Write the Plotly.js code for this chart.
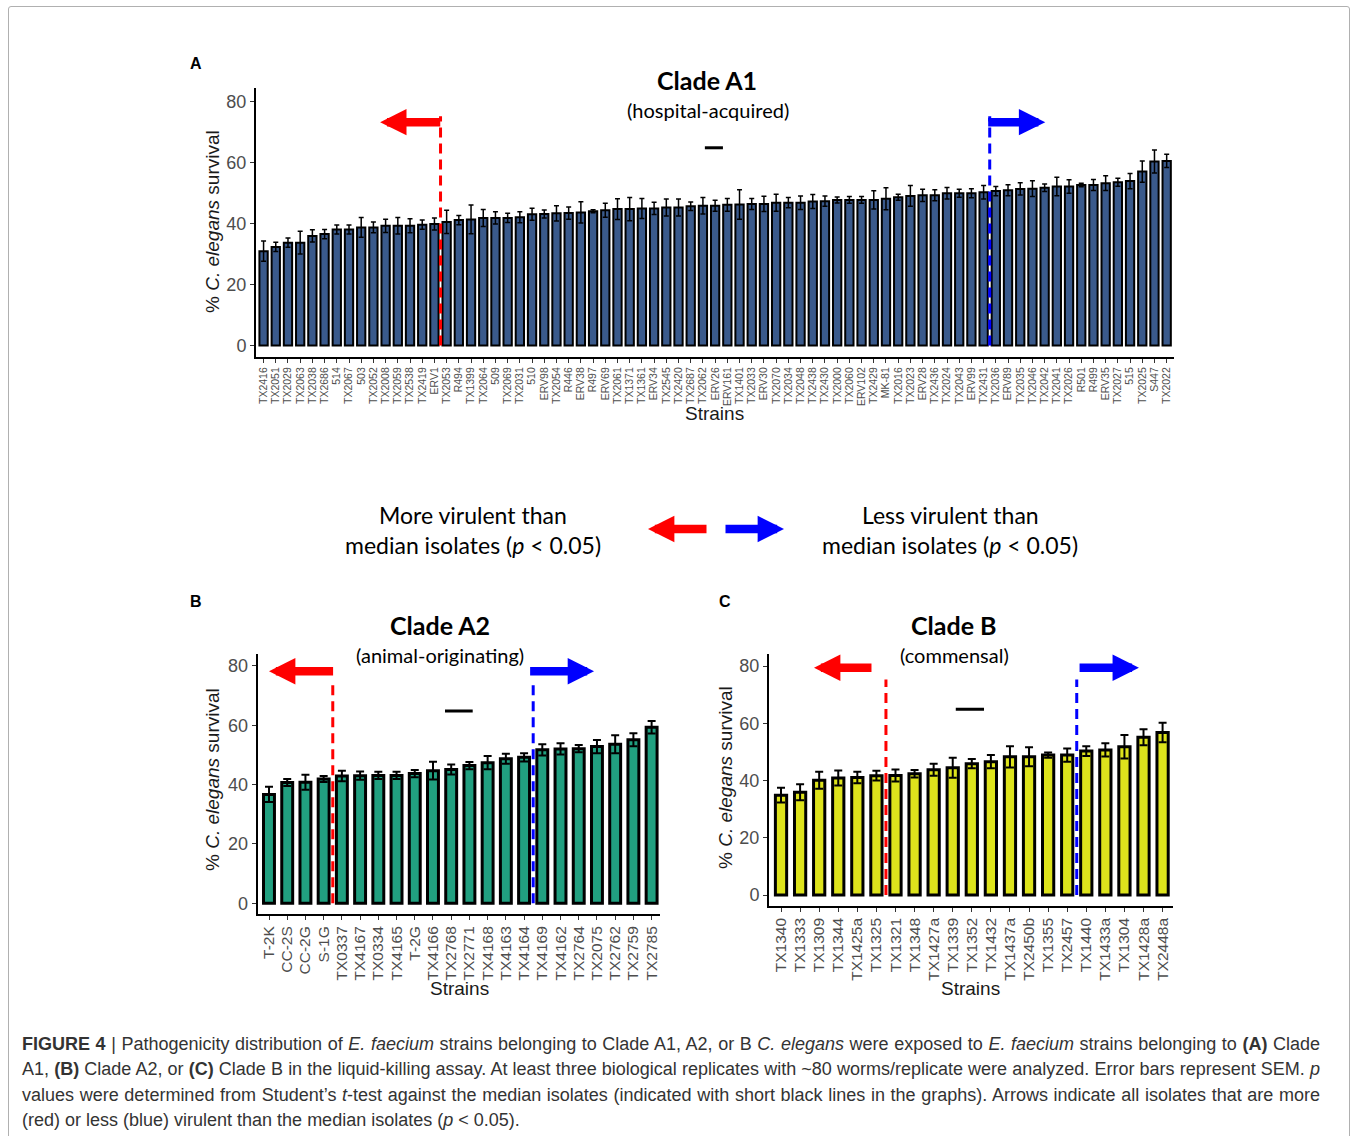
<!DOCTYPE html>
<html><head><meta charset="utf-8">
<script src="https://cdn.plot.ly/plotly-3.0.1.min.js"></script>
<style>
html,body{margin:0;padding:0;background:#fff;}
#wrap{position:relative;width:1356px;height:1136px;overflow:hidden;background:#fff;}
#frame{position:absolute;left:8px;top:6px;width:1340px;height:1150px;border:1px solid #b0b0b0;border-radius:3px;}
#chart{position:absolute;left:0;top:0;width:1356px;height:1136px;}
#caption{position:absolute;left:22px;top:1032px;width:1298px;font-family:'Liberation Sans Narrow','Liberation Sans',Arial,sans-serif;font-size:18px;line-height:25.3px;color:#333;}
#caption div{white-space:nowrap;text-align:justify;text-align-last:justify;}
#caption div.last{text-align-last:left;}
</style></head>
<body>
<div id="wrap">
<div id="frame"></div>
<div id="chart"></div>
<div id="caption">
<div><b>FIGURE 4</b> | Pathogenicity distribution of <i>E. faecium</i> strains belonging to Clade A1, A2, or B <i>C. elegans</i> were exposed to <i>E. faecium</i> strains belonging to <b>(A)</b> Clade</div>
<div>A1, <b>(B)</b> Clade A2, or <b>(C)</b> Clade B in the liquid-killing assay. At least three biological replicates with ~80 worms/replicate were analyzed. Error bars represent SEM. <i>p</i></div>
<div>values were determined from Student’s <i>t</i>-test against the median isolates (indicated with short black lines in the graphs). Arrows indicate all isolates that are more</div>
<div class="last">(red) or less (blue) virulent than the median isolates (<i>p</i> &lt; 0.05).</div>
</div>
</div>
<script>
// ---------- DATA ----------
const strainsA = ["TX2416","TX2051","TX2029","TX2063","TX2038","TX2686","514","TX2067","503","TX2052","TX2008","TX2059","TX2538","TX2419","ERV1","TX2053","R494","TX1399","TX2064","509","TX2069","TX2031","510","ERV98","TX2054","R446","ERV38","R497","ERV69","TX2061","TX1371","TX1361","ERV34","TX2545","TX2420","TX2687","TX2062","ERV26","ERV161","TX1401","TX2033","ERV30","TX2070","TX2034","TX2048","TX2438","TX2430","TX2000","TX2060","ERV102","TX2429","MK-81","TX2016","TX2023","ERV28","TX2436","TX2024","TX2043","ERV99","TX2431","TX2036","ERV89","TX2035","TX2046","TX2042","TX2041","TX2026","R501","R499","ERV35","TX2027","515","TX2025","S447","TX2022"];
const survivalA = [30.9,32.3,33.7,33.7,35.9,36.5,38.0,38.0,38.7,38.7,39.2,39.2,39.2,39.6,39.8,40.5,41.1,41.3,41.8,41.8,41.8,
  42.0,43.0,43.1,43.3,43.4,43.6,44.0,44.3,44.7,44.7,44.9,44.9,45.2,45.2,45.6,45.8,45.8,46.1,46.2,46.4,46.4,46.8,46.8,46.8,47.2,47.3,47.7,
  47.7,47.7,47.7,48.1,48.6,49.0,49.2,49.2,49.9,49.9,49.9,50.2,50.6,50.9,51.3,51.4,51.7,52.1,52.1,52.6,52.6,53.2,53.5,53.9,57.0,60.3,60.5];
const semA = [3.3,1.5,1.5,3.7,2,1.5,1.5,1.5,3.2,1.8,2.2,2.7,2.3,1.5,2,3.8,1.5,4.7,2.8,2,1.5,
  1.8,2,1.3,2.5,2,3.5,0.5,2.3,3.4,3.8,3.3,2,2.8,2.8,1.4,2.7,1.8,2.1,4.8,1.8,2.5,2.8,1.7,2.2,2.3,1.7,1,
  1.1,1.1,3,3.6,1,3.4,2,1.8,1.9,1.3,1.5,2.2,1.5,1.8,2,2.6,1.2,3,2.2,0.6,1.8,2.4,1.3,2.5,3.5,3.8,2.2];

const strainsB = ["T-2K","CC-2S","CC-2G","S-1G","TX0337","TX4167","TX0334","TX4165","T-2G","TX4166","TX2768","TX2771","TX4168","TX4163","TX4164","TX4169","TX4162","TX2764","TX2075","TX2762","TX2759","TX2785"];
const survivalB = [36.7,40.7,40.8,41.9,42.9,43.0,43.1,43.1,43.7,44.7,45.1,46.4,47.4,48.7,49.2,51.7,52.0,52.1,52.8,53.6,55.1,59.3];
const semB = [2.6,1.2,2.5,1,1.8,1.4,1.2,1.2,1.2,3,1.7,1.2,2.2,1.7,1.4,1.9,1.9,1.2,2.2,3,2.2,2.1];

const strainsC = ["TX1340","TX1333","TX1309","TX1344","TX1425a","TX1325","TX1321","TX1348","TX1427a","TX1339","TX1352","TX1432","TX1437a","TX2450b","TX1355","TX2457","TX1440","TX1433a","TX1304","TX1428a","TX2448a"];
const survivalC = [34.9,35.9,40.1,40.9,41.1,41.7,41.8,42.4,43.8,44.5,45.9,46.6,48.3,48.3,48.9,48.9,50.3,50.7,51.8,55.1,56.8];
const semC = [2.6,2.8,3,2.6,2,1.7,2.1,1.3,2.1,3.5,1.6,2.3,3.7,3.3,0.9,2.3,1.7,2.3,4.1,2.8,3.4];

const yTicks = [0,20,40,60,80];
// significance cut-offs (between bars) and median reference level
const cutMoreVirulent = {A:14.5, B:3.5, C:5.5};
const cutLessVirulent = {A:59.5, B:14.5, C:15.5};
const medianLevel = {A:64.8, B:64.8, C:64.9};

// ---------- LAYOUT HELPERS ----------
const W = 1356, H = 1136;
const px = x => x / W, py = y => 1 - y / H;
const TITLE_FONT = 'Lato, "Open Sans", sans-serif';
const AX_FONT = '"Liberation Sans", Arial, sans-serif';
const RED = '#ff0000', BLUE = '#0000ff';
const HEAD = 0.62, SHAFT = 8.5;

const panels = [
  {key:'A', xa:'x', ya:'y', names:strainsA, vals:survivalA, errs:semA, color:'#3a5a8c',
   xdom:[256,1174], ydom:[357,88], xr:[-0.62,74.6], yr:[-3.8,84.4], barW:0.68, lineW:2, capW:2.5, errT:1.5, xfont:10.5,
   dashTop:75.1, arrowY:73.2, redTip:9.55, blueTip:64.05, medHalf:0.74, medCenter:36.9},
  {key:'B', xa:'x2', ya:'y2', names:strainsB, vals:survivalB, errs:semB, color:'#21a080',
   xdom:[257.7,660], ydom:[914,654], xr:[-0.62,21.46], yr:[-3.6,84.0], barW:0.6, lineW:3, capW:4, errT:2, xfont:15.5,
   dashTop:75.5, arrowY:78.2, redTip:0.0, blueTip:17.84, medHalf:0.76, medCenter:10.42},
  {key:'C', xa:'x3', ya:'y3', names:strainsC, vals:survivalC, errs:semC, color:'#dde31c',
   xdom:[769,1172.7], ydom:[905.7,654], xr:[-0.63,20.53], yr:[-3.7,84.2], barW:0.59, lineW:3, capW:4, errT:2, xfont:15.5,
   dashTop:75.3, arrowY:79.4, redTip:1.73, blueTip:18.76, redTail:4.82, blueTail:15.57, medHalf:0.74, medCenter:9.9}
];

const data = [], shapes = [], annotations = [];
const layout = {width:W, height:H, margin:{l:0,r:0,t:0,b:0}, paper_bgcolor:'rgba(0,0,0,0)',
  plot_bgcolor:'rgba(0,0,0,0)', showlegend:false, bargap:0};

panels.forEach(p => {
  const idx = p.names.map((_, i) => i);
  data.push({type:'bar', x:idx, y:p.vals, width:p.barW, xaxis:p.xa, yaxis:p.ya, hoverinfo:'skip',
    marker:{color:p.color, line:{color:'#000', width:p.lineW}},
    error_y:{type:'data', array:p.errs, visible:true, color:'#000', thickness:p.errT, width:p.capW}});
  const xk = 'xaxis' + p.xa.slice(1), yk = 'yaxis' + p.ya.slice(1);
  layout[xk] = {domain:[px(p.xdom[0]), px(p.xdom[1])], anchor:p.ya, range:p.xr, tickmode:'array', tickvals:idx, ticktext:p.names,
    tickangle:-90, tickfont:{family:AX_FONT, size:p.xfont, color:'#4d4d4d'}, showline:true, linecolor:'#000', linewidth:2,
    ticks:'outside', ticklen:4, tickcolor:'#333', tickwidth:1, showgrid:false, zeroline:false, fixedrange:true};
  layout[yk] = {domain:[py(p.ydom[0]), py(p.ydom[1])], anchor:p.xa, range:p.yr, tickmode:'array', tickvals:yTicks,
    tickfont:{family:AX_FONT, size:18, color:'#4d4d4d'}, showline:true, linecolor:'#000', linewidth:2,
    ticks:'outside', ticklen:4, tickcolor:'#333', tickwidth:1, showgrid:false, zeroline:false, fixedrange:true};
  const red = cutMoreVirulent[p.key], blue = cutLessVirulent[p.key];
  shapes.push({type:'line', xref:p.xa, yref:p.ya, x0:red, x1:red, y0:0, y1:p.dashTop, line:{color:RED, width:3, dash:'10px,6px'}});
  shapes.push({type:'line', xref:p.xa, yref:p.ya, x0:blue, x1:blue, y0:0, y1:p.dashTop, line:{color:BLUE, width:3, dash:'10px,6px'}});
  shapes.push({type:'line', xref:p.xa, yref:p.ya, x0:p.medCenter - p.medHalf, x1:p.medCenter + p.medHalf,
    y0:medianLevel[p.key], y1:medianLevel[p.key], line:{color:'#000', width:3}});
  const arrow = (tip, tail, col) => ({xref:p.xa, yref:p.ya, axref:p.xa, ayref:p.ya, x:tip, y:p.arrowY, ax:tail, ay:p.arrowY,
    text:'', showarrow:true, arrowhead:2, arrowsize:HEAD, arrowwidth:SHAFT, arrowcolor:col});
  annotations.push(arrow(p.redTip, p.redTail !== undefined ? p.redTail : red + 0.1, RED));
  annotations.push(arrow(p.blueTip, p.blueTail !== undefined ? p.blueTail : blue - 0.25, BLUE));
});

function T(text, x, y, size, o) {
  annotations.push(Object.assign({xref:'paper', yref:'paper', x:px(x), y:py(y), text:text, showarrow:false,
    xanchor:'center', yanchor:'middle', font:{family:TITLE_FONT, size:size, color:'#000'}}, o || {}));
}
// panel letters
T('<b>A</b>', 196, 63, 16, {font:{family:AX_FONT, size:16, color:'#000'}});
T('<b>B</b>', 196, 601, 16, {font:{family:AX_FONT, size:16, color:'#000'}});
T('<b>C</b>', 725, 601, 16, {font:{family:AX_FONT, size:16, color:'#000'}});
// titles
T('<b>Clade A1</b>', 707, 80, 25);
T('(hospital-acquired)', 708, 110, 20);
T('<b>Clade A2</b>', 440, 625, 25);
T('(animal-originating)', 440, 655, 20);
T('<b>Clade B</b>', 954, 625, 25);
T('(commensal)', 954, 655, 20);
// axis titles
const axT = {font:{family:AX_FONT, size:19, color:'#1a1a1a'}};
T('Strains', 714, 413, 19, axT);
T('Strains', 459, 988, 19, axT);
T('Strains', 970, 988, 19, axT);
const yT = {font:{family:AX_FONT, size:19, color:'#1a1a1a'}, textangle:-90};
T('% <i>C. elegans</i> survival', 212, 222, 19, yT);
T('% <i>C. elegans</i> survival', 212, 780, 19, yT);
T('% <i>C. elegans</i> survival', 725, 778, 19, yT);
// middle legend
T('More virulent than', 473, 515, 23);
T('median isolates (<i>p</i> &lt; 0.05)', 473, 545, 23);
T('Less virulent than', 950, 515, 23);
T('median isolates (<i>p</i> &lt; 0.05)', 950, 545, 23);
annotations.push({xref:'paper', yref:'paper', x:px(648), y:py(529), ax:60, ay:0, text:'', showarrow:true,
  arrowhead:2, arrowsize:HEAD, arrowwidth:SHAFT, arrowcolor:RED});
annotations.push({xref:'paper', yref:'paper', x:px(784), y:py(529), ax:-60, ay:0, text:'', showarrow:true,
  arrowhead:2, arrowsize:HEAD, arrowwidth:SHAFT, arrowcolor:BLUE});

layout.shapes = shapes;
layout.annotations = annotations;
Plotly.newPlot('chart', data, layout, {staticPlot:true, displayModeBar:false});
</script>
</body></html>
